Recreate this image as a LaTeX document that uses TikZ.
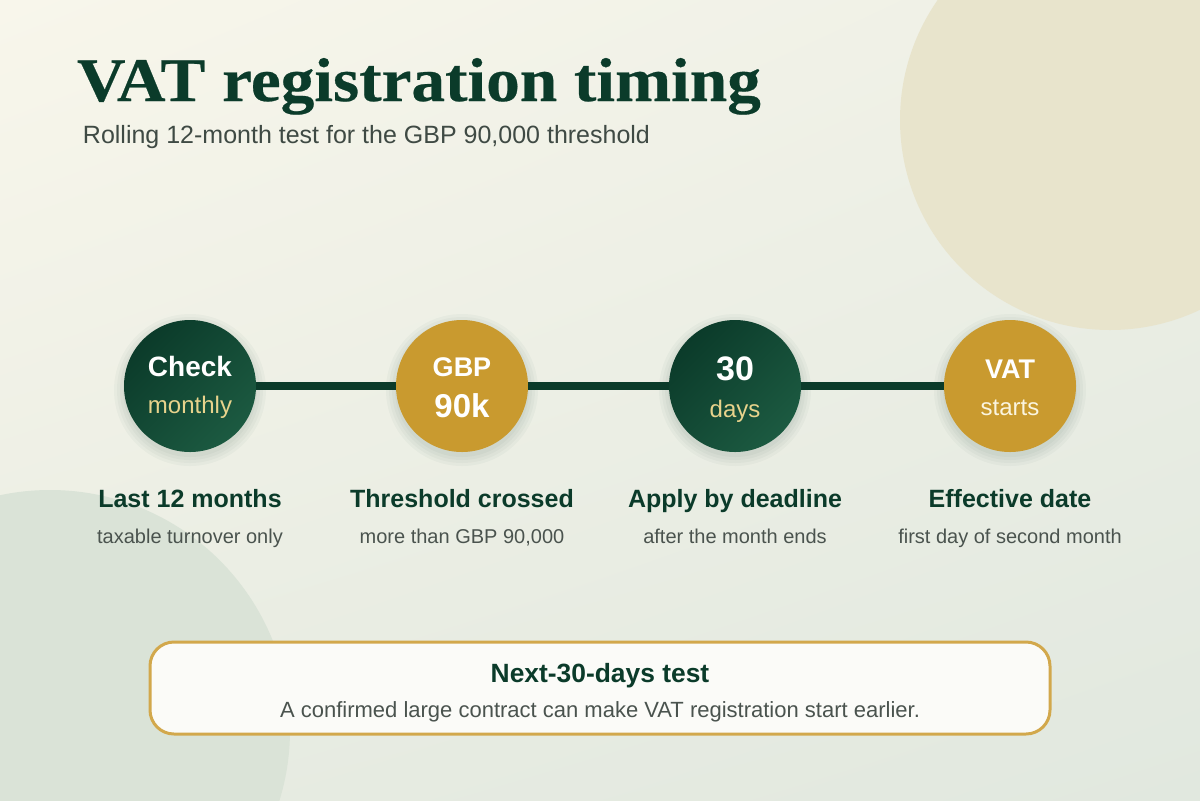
\documentclass[tikz,border=0pt]{standalone}
\usepackage{fontspec}
\usepackage{xcolor}
\setmainfont{Liberation Sans}
\newfontfamily\headfont[FakeStretch=1.085,FakeBold=0.4]{Liberation Serif}
\usetikzlibrary{positioning,shadings}
\definecolor{pine}{HTML}{0B3B2A}
\definecolor{pinelight}{HTML}{1C5A41}
\definecolor{ochre}{HTML}{C99A2F}
\definecolor{straw}{HTML}{E8D38C}
\definecolor{cream}{HTML}{FBF5E0}
\definecolor{slate}{HTML}{4A534E}
\definecolor{subgrey}{HTML}{3F4A44}
\definecolor{sandcirc}{HTML}{E8E4CC}
\definecolor{sagecirc}{HTML}{DAE3D7}
\definecolor{boxedge}{HTML}{D2A84C}
\definecolor{boxfill}{HTML}{FBFBF8}
\definecolor{bgtl}{HTML}{F8F6EB}
\definecolor{bgtr}{HTML}{EEF0E6}
\definecolor{bgbl}{HTML}{E8ECE2}
\definecolor{bgbr}{HTML}{E1E8DF}

\begin{document}
\begin{tikzpicture}
	[x=0.5pt,y=-0.5pt, every node/.style={inner sep=0pt,outer sep=0pt},
	dot/.style={circle,minimum size=66pt},
	greendot/.style={dot,left color=pine,right color=pinelight,shading angle=45},
	golddot/.style={dot,fill=ochre},
	link/.style={draw=pine,line width=4pt},
	bigtext/.style={anchor=base,text=white,font=\bfseries\fontsize{#1}{#1}\selectfont},
	smalltext/.style={anchor=base,text=#1,font=\fontsize{12}{12}\selectfont},
	headlabel/.style={anchor=base,text=pine,font=\bfseries\fontsize{12.5}{12.5}\selectfont},
	sublabel/.style={anchor=base,text=slate,font=\fontsize{10}{10}\selectfont},
	notebox/.style={draw=boxedge,line width=1.5pt,fill=boxfill,rounded corners=12pt,
		minimum width=450pt,minimum height=46pt}]
	\useasboundingbox (0,0) rectangle (1200,800);
	\clip (0,0) rectangle (1200,800);
	\shade[upper left=bgtl,upper right=bgtr,lower left=bgbl,lower right=bgbr]
		(0,0) rectangle (1200,800);
	\fill[sandcirc] (1110,120) circle[radius=210];
	\fill[sagecirc] (50,730) circle[radius=240];

	\node[anchor=base west,text=pine,font=\headfont\bfseries\fontsize{31}{31}\selectfont]
		(title) at (77,101) {VAT registration timing};
	\node[anchor=base west,text=subgrey,font=\fontsize{12.5}{12.5}\selectfont]
		(subtitle) at (83,143) {Rolling 12-month test for the GBP 90,000 threshold};

	\foreach \x in {190,462,735,1010}
		\foreach \r in {67,70,73,76}
			\fill[pine,opacity=0.03] (\x,390) circle[radius=\r];

	\node[greendot] (chk) at (190,386) {};
	\node[golddot] (gbp) at (462,386) {};
	\node[greendot] (ddl) at (735,386) {};
	\node[golddot] (vat) at (1010,386) {};
	\draw[link] (chk) -- (gbp);
	\draw[link] (gbp) -- (ddl);
	\draw[link] (ddl) -- (vat);

	\node[bigtext=14] (chktop) at (190,376) {Check};
	\node[smalltext=straw] (chkbot) at (190,413) {monthly};
	\node[bigtext=13.5] (gbptop) at (462,376) {GBP};
	\node[bigtext=16.5] (gbpbot) at (462,417) {90k};
	\node[bigtext=17] (ddltop) at (735,380) {30};
	\node[smalltext=straw] (ddlbot) at (735,417) {days};
	\node[bigtext=13.5] (vattop) at (1010,378) {VAT};
	\node[smalltext=cream] (vatbot) at (1010,415) {starts};

	\node[headlabel] (chkhead) at (190,507) {Last 12 months};
	\node[sublabel] (chksub) at (190,543) {taxable turnover only};
	\node[headlabel] (gbphead) at (462,507) {Threshold crossed};
	\node[sublabel] (gbpsub) at (462,543) {more than GBP 90,000};
	\node[headlabel] (ddlhead) at (735,507) {Apply by deadline};
	\node[sublabel] (ddlsub) at (735,543) {after the month ends};
	\node[headlabel] (vathead) at (1010,507) {Effective date};
	\node[sublabel] (vatsub) at (1010,543) {first day of second month};

	\node[notebox] (note) at (600,688) {};
	\node[headlabel,font=\bfseries\fontsize{13.2}{13.2}\selectfont] (notehead) at (600,682)
		{Next-30-days test};
	\node[sublabel,font=\fontsize{11}{11}\selectfont] (notetext) at (600,717)
		{A confirmed large contract can make VAT registration start earlier.};
\end{tikzpicture}
\end{document}
